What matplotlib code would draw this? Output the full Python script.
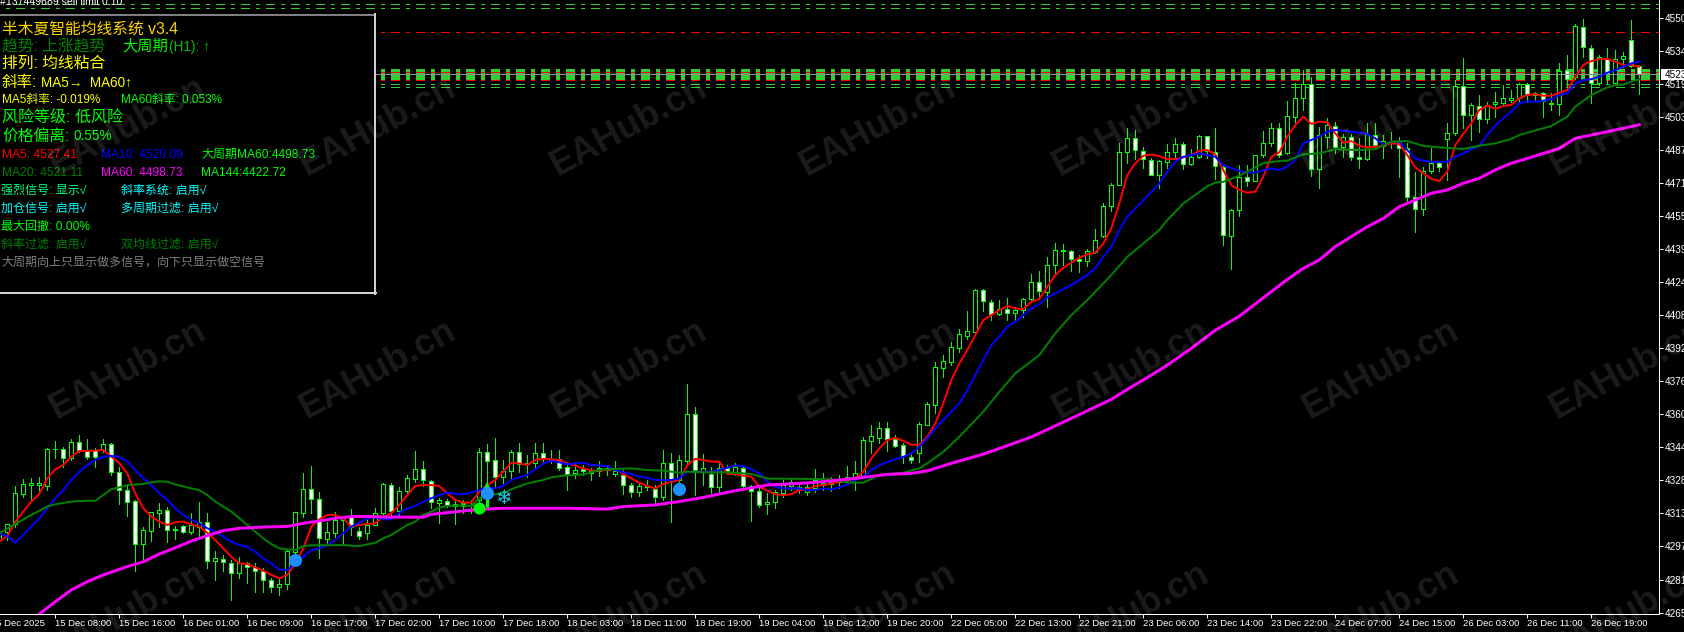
import numpy as np
import matplotlib
matplotlib.use('Agg')
import matplotlib.pyplot as plt
from matplotlib.patches import Rectangle
from matplotlib.lines import Line2D

# bars run from -1 to 204
first_bar = -1
body_top = [4304,
 4307.7,4322.3,4326.6,4327.1,4327.1,4343.4,4343.7,4343.4,4346.7,4346.7,
 4342.8,4343.1,4345.8,4345.8,4332.4,4323.9,4318.7,4304.8,4313.2,4314.2,
 4314.2,4305.1,4306.5,4307.2,4308.8,4308.8,4291.2,4291.1,4289.2,4289.2,
 4289.2,4287.3,4285.2,4280.7,4278.8,4294.6,4313.2,4324.3,4324.3,4319.8,
 4303.7,4309.6,4310.9,4310.9,4304.5,4307.2,4313.1,4326.6,4326.5,4323.6,
 4329.5,4333.8,4333.8,4328.4,4319,4318.8,4317.2,4317.6,4316.9,4342,
 4342.3,4338.1,4333.2,4342.3,4342.3,4337,4341.5,4341.5,4338.8,4338.6,
 4334.8,4333.3,4333.8,4333.2,4334.3,4334.3,4333,4331.3,4326.5,4325.7,
 4325.8,4324.6,4336.7,4336.7,4338.1,4360.1,4360.1,4334.3,4331.6,4334.6,
 4334.3,4335.1,4334.3,4325.9,4323.3,4318,4322.8,4326.3,4327.9,4325.2,
 4325.2,4328.7,4327.5,4328,4329,4330,4332.3,4347.7,4349.6,4353.4,
 4353.4,4348.5,4345.4,4339.5,4355.3,4364.9,4382.6,4385.5,4392.2,4398.4,
 4399.8,4419.4,4419.4,4414,4410.5,4410.7,4410.3,4415.4,4423.3,4423.3,
 4431.4,4438.6,4438.6,4438.4,4434.7,4438.1,4443.4,4459.6,4470.1,4485.9,
 4492.6,4492.6,4486.3,4482,4481.2,4485.9,4489.3,4489.3,4483.1,4493.1,
 4493.1,4485.8,4478.6,4457.7,4473.6,4473.6,4484.1,4490.1,4497,4497,
 4502.7,4511.4,4518.2,4518.2,4493.8,4498.6,4498.3,4493,4493,4483.4,
 4494.3,4494,4490.9,4490.6,4490.6,4487.6,4464.3,4476.6,4480.3,4480.3,
 4494.6,4517.4,4517.4,4508.2,4507.9,4508.2,4509.4,4511.4,4511.4,4518.2,
 4518,4513.8,4513.8,4509,4524.6,4524.9,4546,4545.6,4535.6,4531,
 4530.3,4530.3,4531.6,4539.3,4526.8]
body_bottom = [4300,
 4304,4307.7,4322.2,4326.2,4326.2,4326,4343.4,4339.1,4339.1,4342.8,
 4339.6,4339.6,4343.1,4332.4,4323.9,4318.4,4297.9,4297.9,4304.5,4313.1,
 4304.6,4304.8,4304,4303.7,4306.4,4289.8,4289.8,4289.3,4284.1,4284.1,
 4287.3,4285,4280.7,4277.4,4277.4,4278.8,4294.3,4313.1,4319.8,4300.8,
 4300.6,4303.5,4309.6,4306.4,4302.1,4303.5,4307.2,4312.8,4314,4314,
 4323.6,4329.4,4328.6,4318.4,4317.9,4316.9,4316.3,4316.3,4316.6,4319.2,
 4338,4330.3,4330.3,4333.2,4336.4,4336.4,4337,4338.8,4338.3,4334.6,
 4331.3,4331.9,4333.2,4332.2,4333.2,4333.5,4331.6,4326.5,4323.1,4323.1,
 4325.5,4320.7,4320.4,4329,4328.7,4338,4333.5,4332.7,4325.2,4325.2,
 4333.2,4332.7,4326,4323.3,4316.9,4317.1,4318,4322.5,4326,4323.9,
 4323,4324.7,4326.5,4327,4328,4328.5,4329.5,4330.3,4347.5,4348.9,
 4348.5,4345.1,4340.3,4338.4,4341.4,4355.2,4364.7,4382.4,4385.3,4392,
 4397.7,4399.7,4414.2,4408.1,4408,4408.4,4408.4,4410,4415.4,4419,
 4418.8,4431.4,4438.1,4434.7,4433.3,4433.3,4437.9,4445.3,4459.6,4470.1,
 4485.8,4486.4,4482.1,4474.9,4474.8,4481,4485.8,4479.9,4479.7,4483.1,
 4486.1,4478.8,4446.1,4445.7,4457.9,4472,4472,4484.1,4490.1,4484.1,
 4485.4,4502.6,4511.4,4477.4,4477.4,4492.7,4487.9,4487.9,4483.1,4482.2,
 4482.2,4489,4488.6,4489.8,4487.6,4464.3,4458.2,4458.2,4476.6,4478.7,
 4491.7,4494.6,4503.2,4503.2,4501.3,4501.3,4508.5,4509.3,4510.4,4511.4,
 4512.9,4513,4510.2,4508.5,4508.5,4520.6,4521.7,4535.8,4518.5,4518.5,
 4523,4518.5,4530.3,4526.8,4523]
highs = [4306,
 4307.7,4325.9,4329,4329.5,4330,4343.9,4347.2,4344.4,4348.2,4350.3,
 4348.2,4343.9,4348.2,4346.3,4335.1,4326.3,4319.2,4306.4,4313.6,4317.6,
 4316,4306.7,4307.2,4313.1,4318.2,4312.8,4294.7,4292.8,4290.4,4292,
 4289.6,4288.8,4286.5,4281.7,4281.7,4295.2,4313.6,4331.9,4335.4,4323.1,
 4308.8,4313.6,4311.5,4314.7,4306.4,4309.6,4315.2,4327.1,4327.4,4325.2,
 4331.1,4342.6,4337.8,4328.7,4320,4319.8,4319.2,4319.2,4319.2,4343.9,
 4345.9,4348.7,4338.3,4343.1,4346.6,4340.7,4346.3,4346.3,4343.1,4343.1,
 4335.9,4336.7,4335.9,4334.3,4337.8,4335.9,4337.8,4333.5,4327.4,4327.1,
 4328.7,4326.3,4343.1,4341.5,4340.7,4374.7,4363.5,4341.2,4335.1,4336.7,
 4335.9,4336.7,4335.6,4326.3,4325.2,4322.3,4323.9,4328.7,4329.5,4327.1,
 4327.1,4334,4331.9,4330,4331,4335.4,4337.8,4349.4,4355,4356.3,
 4356.3,4350.2,4346.2,4341.4,4356.6,4366.2,4385.3,4388.5,4394.9,4400.8,
 4409.5,4419.9,4419.9,4414.8,4414.8,4415.6,4411.6,4415.6,4427.2,4428.7,
 4435.2,4441.9,4441.6,4438.7,4436.3,4439.2,4448.6,4461.1,4470.6,4490.2,
 4497.1,4496.1,4487.9,4482.6,4481.8,4489.3,4492.6,4490.6,4486.9,4493.8,
 4493.3,4497.1,4479.2,4458.5,4479.5,4479.3,4484.2,4495.9,4499.4,4499.4,
 4510.1,4518.5,4524.9,4521.7,4497.5,4501.8,4500.2,4494.3,4494.3,4492.2,
 4499.4,4499.4,4493.8,4495.4,4492.7,4489.8,4475.9,4478.7,4487.4,4481,
 4499.4,4520.1,4530.5,4509,4512.9,4509.8,4514.2,4517.7,4515.3,4518.9,
 4518.5,4514.5,4514.5,4513.8,4528.4,4532.1,4546.9,4549.3,4536.9,4532.1,
 4535.3,4534.5,4533.7,4548.8,4527.3]
lows = [4298,
 4300,4306.4,4320.7,4319.2,4322,4323.9,4339.1,4335.1,4338.3,4342.3,
 4338.6,4335.1,4342.3,4331.1,4317.2,4311.7,4285.3,4290.8,4299.7,4306.4,
 4299.2,4300.3,4303.2,4302.9,4301.6,4286.5,4280.9,4285.3,4271.3,4281.7,
 4279.3,4275.3,4275.3,4275.3,4273.7,4276.4,4292.8,4311.2,4312.8,4291.6,
 4297.6,4301.6,4297.6,4302.4,4300.3,4300.3,4308,4312,4312,4312,
 4322.3,4327.9,4325.9,4315.2,4308.3,4316,4307.7,4312.8,4312.8,4317.6,
 4316,4325.2,4327.1,4329.5,4332.7,4330.3,4335.1,4336.7,4336.7,4333.5,
 4323.9,4329.5,4331.1,4328.7,4330.6,4331.1,4330.6,4322,4320.7,4321.1,
 4323.9,4317.2,4319.2,4308.8,4327.1,4336.7,4321.5,4326.3,4322.3,4323.1,
 4331.6,4331.1,4324.7,4309.3,4315.6,4312.5,4315.2,4320.7,4323.9,4322.3,
 4321.5,4323.1,4323.9,4323.5,4325,4327.1,4323.9,4330,4341.4,4346.2,
 4342.7,4344.6,4336.7,4336.7,4337.4,4355,4360.6,4378.1,4383.7,4390.1,
 4396,4398.9,4409.7,4405.2,4407.6,4405.2,4405.2,4406.8,4414.8,4415.6,
 4411.6,4427.2,4431.5,4428.8,4428.4,4431.2,4437.1,4445.1,4457.5,4469.8,
 4480.5,4482.1,4478.1,4474.5,4468.5,4477.8,4483.4,4477.5,4479.4,4482.6,
 4482.6,4472.7,4441.1,4429.8,4455.1,4469.4,4471.6,4483.4,4488.5,4483.4,
 4484.7,4499.7,4505.8,4474.2,4468.6,4487.4,4485,4483.4,4481.8,4477.9,
 4481.8,4487.4,4482.6,4487.4,4473.9,4461.4,4447.6,4455.5,4475.5,4476.7,
 4472.3,4493.8,4497,4491.4,4495.4,4499.4,4502.6,4508.2,4509.8,4509.8,
 4509.8,4510.6,4502.3,4505.8,4503.4,4515.3,4520.4,4531,4509.3,4517.7,
 4518.5,4517.7,4526.5,4526.5,4513.4]
falling_bars = [7,9,10,11,13,14,15,16,20,22,25,27,28,30,31,32,33,38,39,43,44,48,52,53,55,57,
    60,61,64,67,69,70,72,73,77,78,81,83,86,88,90,92,93,94,99,110,111,112,113,122,123,125,129,
    133,134,141,142,143,147,150,151,152,155,159,163,166,168,169,171,174,175,176,179,182,184,
    190,192,195,197,198,200,203,204]

ma5 = [4299.2,4301.9,4308.8,4313.6,4318.4,4322,4329.5,4333.8,4335.9,4339.9,4342.6,
 4342.6,4342.8,4343.1,4339.9,4336.7,4331.9,4322.3,4315.2,4311.2,4308.8,
 4307.2,4308.5,4308.8,4307.5,4306.4,4303.5,4300,4296,4292,4288.8,
 4288.5,4286.9,4285.3,4283.3,4281.7,4283.3,4288.8,4296,4306.4,4309.9,
 4312,4312,4310.4,4306.4,4307.2,4307.7,4308,4311.2,4312.8,4316.8,
 4321.5,4325.9,4326.3,4326.3,4325.9,4322.3,4319.2,4317.9,4317.9,4323.1,
 4326.3,4328.7,4332.7,4337,4336.7,4335.9,4338.3,4338.8,4338.6,4338.3,
 4336.7,4335.6,4334.3,4333.2,4333.2,4333.5,4333.8,4331.6,4329.5,4327.4,
 4325.9,4324.7,4326.8,4327.9,4328.7,4335.9,4338.8,4338.3,4337.5,4337.5,
 4331.6,4331.6,4330.8,4330.3,4325.5,4323.6,4321.9,4321.5,4321.9,4323.9,
 4324.3,4325.9,4326.3,4327,4327.9,4328.7,4329.5,4332.7,4339,4343.8,
 4347.8,4348.9,4347.5,4345.6,4345.6,4349.4,4355.8,4365.4,4376.5,4384.5,
 4390.9,4398,4405.2,4407.6,4410,4412,4410.8,4410.5,4414,4415.3,
 4421.2,4426.8,4430.3,4432.7,4435.1,4436.7,4437.5,4441.9,4449.1,4461,
 4474.6,4480.2,4483.9,4484.5,4483.7,4482.3,4482.3,4483.1,4484.2,4486.3,
 4486.6,4484.5,4477,4469.9,4467.5,4466.2,4466.7,4473.9,4483.4,4485.5,
 4493,4498.6,4502.6,4499.1,4500.2,4499.9,4494.6,4490.1,4490.9,4488.6,
 4487.9,4488.2,4488.6,4489.8,4489.5,4484.2,4478.3,4475.5,4472.8,4471.8,
 4476.3,4489,4494.3,4499.4,4505.8,4507.9,4506.3,4507.7,4508.2,4511.4,
 4513,4513.3,4512.6,4512.6,4514,4515.3,4521.7,4527.3,4529.2,4530.2,
 4530.2,4528.9,4527.3,4527.3,4526.5]
ma10 = [4303.2,4301.9,4298.7,4302.4,4306.4,4310.4,4315.2,4320,4323.9,4328.7,4332.7,
 4335.9,4338.3,4339.9,4340.2,4339.9,4337.5,4333.5,4329.5,4326.3,4322.3,
 4319.2,4315.2,4312,4309.6,4308,4305.6,4304,4301.6,4299.2,4297.6,
 4296.8,4294.4,4291.2,4288.8,4285.7,4285.7,4288.8,4292,4295.2,4296,
 4297.6,4300,4303.2,4306.4,4308.3,4310.4,4310.9,4309.9,4309.9,4312.8,
 4315.2,4316.3,4318.4,4320,4321.5,4322.7,4322,4321.9,4322.7,4323.9,
 4325.1,4324.7,4325.9,4328.7,4330,4331.1,4333.8,4336.7,4337.8,4337.2,
 4336.2,4336.7,4337,4335.9,4335.6,4335.4,4333.5,4332.4,4331.6,4330.3,
 4329.8,4328.7,4328.7,4328.7,4329.5,4332.7,4332.7,4332.7,4332.7,4333.5,
 4334.6,4335.6,4335.4,4333.8,4331.9,4327.9,4325.5,4324.7,4324.7,4324.7,
 4323.9,4323.9,4324.7,4324.2,4325.2,4326.6,4328.7,4330.3,4333.5,4335.8,
 4337.4,4338.7,4339.8,4341.4,4344.6,4348.6,4353.4,4357.4,4361.4,4365.4,
 4371.7,4378.9,4386.1,4393.3,4397.3,4402,4404.4,4407.6,4410.8,4412.9,
 4416.1,4418,4420.1,4422,4424.4,4426.8,4430,4435.5,4440.3,4448.3,
 4454.7,4458.7,4462.6,4466.6,4470.6,4476.2,4481,4483.4,4484.2,4485,
 4484.2,4483.4,4479.4,4477.9,4476.7,4475.8,4475.8,4477,4477.9,4477,
 4478.7,4481.9,4489.8,4491.4,4493,4495.4,4496.2,4495.9,4495.4,4494.9,
 4494.3,4492.2,4489,4490.6,4490.6,4486.6,4482.6,4481.5,4481,4481,
 4481,4483.4,4485,4487,4488.6,4493.8,4498.3,4501.8,4505,4509,
 4509.8,4509.8,4510.2,4510.9,4513,4513.8,4518.5,4520.1,4520.5,4521.7,
 4523.6,4524.9,4526.5,4528.1,4528.9]

ma20_bars = [-1,1,3,5,6,8,10,11,12,13,14,15,17,18,19,20,21,23,24,25,26,27,28,29,30,31,32,33,34,35,36,
 37,38,40,42,43,44,46,47,48,50,51,52,53,54,55,57,58,59,60,62,63,65,67,68,70,72,74,76,78,80,82,84,85,
 87,90,92,93,95,101,103,105,107,109,112,114,115,117,119,120,122,124,126,129,131,133,135,138,140,144,
 145,147,150,151,152,154,157,159,160,162,164,166,169,171,173,175,177,179,182,184,186,188,189,193,195,
 196,198,200,201,202,203,204]
ma20 = [4303.2,4307.7,4312,4316,4317.1,4318.4,4318.8,4318.8,4321.5,4324.3,4325.2,4326.3,4326.8,4327.6,
 4328.1,4327.9,4326.6,4324.7,4323.9,4321.5,4318.4,4316,4313.6,4310.4,4307.2,4304,4300.8,4298.1,4296,
 4295.5,4295.2,4297.1,4297.5,4297.5,4297.6,4297.3,4297.1,4298.7,4300.8,4302.4,4307.2,4308.8,4312,
 4313.6,4315.5,4316.3,4316.6,4316.3,4320,4321.5,4322.3,4324.3,4327.1,4328.7,4330,4331,4331.3,4333.5,
 4334,4334.3,4333.5,4333.2,4332.2,4332.7,4332.4,4332.4,4331.9,4331.6,4329.4,4329.2,4329.1,4327.6,
 4327.4,4331.1,4332.2,4334.3,4336.7,4342.2,4349.4,4353.4,4361.4,4370.9,4379.7,4388.5,4398.9,4407.6,
 4414.8,4426.8,4435.5,4448.3,4453.1,4461,4469.3,4471,4471.4,4474.3,4480.3,4481.4,4481.5,4484.6,4485,
 4487,4486.6,4487,4490.6,4490.9,4488.6,4487.9,4487.1,4488.7,4489.8,4491.9,4493.8,4498.1,4502.6,
 4507.4,4512.9,4516.6,4517.7,4517.9,4519.3,4520.5]

ma60_bars = [4,6,8,10,12,15,17,19,21,23,25,27,29,32,35,37,39,41,43,45,47,52,53,59,62,70,75,77,81,84,87,
 91,95,99,101,106,110,113,115,118,122,124,128,134,138,140,143,145,148,151,154,160,162,164,166,168,170,
 172,174,176,178,180,182,184,186,188,190,192,194,196,198,200,202,204]
ma60 = [4264.6,4270.5,4276.1,4280.1,4283.3,4287.3,4289.6,4293.3,4296.3,4299.5,4302.1,4304.5,4305.6,4306.2,
 4306.5,4308,4309.1,4310.4,4311.2,4311.3,4311,4310.9,4312.3,4314.7,4315.2,4315.2,4314.8,4316,4316.8,
 4318.4,4320.4,4323.6,4326.3,4327.1,4327.6,4329.5,4331.4,4331.9,4333.1,4336.7,4341.1,4343.8,4349.3,
 4360,4367.3,4372.1,4378.9,4383.7,4391.7,4400.4,4407.1,4424.7,4430,4434,4440.4,4445.2,4449.9,4453.9,
 4459.5,4462.7,4465.9,4467.5,4470.7,4473.1,4477.1,4480.3,4482.6,4485,4487.4,4492.2,4493.8,4495.4,4497,4498.7]

# order levels
top_levels = [4556.3, 4554.4]
stop_level = 4542.9
band_green = [4525.4,4524.9,4524.4,4523.9,4523.4,4523,4522.5,4522,4521.5,4521.1,4520.6,4518.4,4517]
band_red = [4523.9,4519.9]
bid_price = 4523

# signal markers
blue_dot_bars = [36,60,84]
blue_dot_prices = [4290.4,4322.7,4324.4]
green_dot_bar = 59
green_dot_price = 4315.2
arrow_bar = 60
arrow_low, arrow_high = 4316, 4325
snow_bar = 62
snow_price = 4320

xtick_bars = [6,14,22,30,38,46,54,62,70,78,86,94,102,110,118,126,134,142,150,158,166,174,182,190,198]
xtick_labels = ['15 Dec 08:00','15 Dec 16:00','16 Dec 01:00','16 Dec 09:00','16 Dec 17:00',
    '17 Dec 02:00','17 Dec 10:00','17 Dec 18:00','18 Dec 03:00','18 Dec 11:00','18 Dec 19:00','19 Dec 04:00',
    '19 Dec 12:00','19 Dec 20:00','22 Dec 05:00','22 Dec 13:00','22 Dec 21:00','23 Dec 06:00','23 Dec 14:00',
    '23 Dec 22:00','24 Dec 07:00','24 Dec 15:00','26 Dec 03:00','26 Dec 11:00','26 Dec 19:00']
first_date_label = '15 Dec 2025'
ytick_prices = [4550,4534.2,4518.4,4502.5,4486.7,4470.9,4455.1,4439.3,4423.4,4407.6,4391.8,4376,4360.2,
    4344.3,4328.5,4312.7,4296.9,4281.1,4265.2]
ytick_labels = ['4550','4534','4519','4503','4487','4471','4455','4439','4424','4408','4392','4376','4360',
    '4344','4328','4313','4297','4281','4265']

W, H = 1684, 632
PX = 0.72   # one pixel in points at dpi 100
LIME = '#00ff00'
FONT = ['Liberation Sans', 'Noto Sans CJK SC', 'DejaVu Sans']
plt.rcParams['lines.scale_dashes'] = False

def fx(x):
    return x / W

def fy(y):
    return 1 - y / H

def label(x, y, text, color, size):
    # size is in pixels, y is the vertical centre of the line
    fig.text(fx(x), fy(y + 1.5), text, color=color, fontsize=size * PX, family=FONT, va='center', ha='left', zorder=6)

fig = plt.figure(figsize=(W / 100, H / 100), dpi=100, facecolor='black')
ax = fig.add_axes([0, 1 - 614 / H, 1659 / W, 614 / H], facecolor='black')

dash = (9 * PX, (9 * PX, 6 * PX, 3 * PX, 6 * PX))
for level in top_levels:
    ax.axhline(level, color='#32cd32', lw=PX, ls=dash, antialiased=False, zorder=1)
ax.axhline(stop_level, color='red', lw=PX, ls=dash, antialiased=False, zorder=1)
for level in band_green:
    ax.axhline(level, color='#32cd32', lw=1.4 * PX, ls=dash, antialiased=False, zorder=1)
for level in band_red:
    ax.axhline(level, color='red', lw=PX, ls=dash, antialiased=False, zorder=1.1)

# candles
bars = np.arange(first_bar, first_bar + len(body_top))
top = np.array(body_top)
bottom = np.array(body_bottom)
fills = ['white' if b in falling_bars else 'black' for b in bars]
ax.vlines(bars, lows, highs, color=LIME, lw=PX, antialiased=False, zorder=2)
ax.bar(bars, top - bottom, bottom=bottom, width=0.5, color=fills, edgecolor=LIME, linewidth=PX,
       antialiased=False, zorder=3)

ax.axhline(bid_price, color='#8c8c9c', lw=PX, antialiased=False, zorder=3.5)

# moving averages
ax.plot(bars, ma5, color='red', lw=2 * PX, zorder=4)
ax.plot(bars, ma10, color='blue', lw=2 * PX, zorder=4.1)
ax.plot(ma20_bars, ma20, color='#008000', lw=2 * PX, zorder=4.2)
ax.plot(ma60_bars, ma60, color='magenta', lw=3 * PX, zorder=4.3)

# signals
ax.vlines(arrow_bar, arrow_low, arrow_high, color=LIME, lw=3 * PX, zorder=5)
ax.plot([arrow_bar], [arrow_high], marker='^', ms=12 * PX, color=LIME, mew=0, zorder=5)
ax.plot([green_dot_bar], [green_dot_price], 'o', ms=12 * PX, color=LIME, mew=0, zorder=5.1)
ax.plot(blue_dot_bars, blue_dot_prices, 'o', ms=13 * PX, color='#1e90ff', mew=0, ls='none', zorder=5.2)
ax.text(snow_bar, snow_price, '\u2744', color='#22c8e8', fontsize=20 * PX, family='DejaVu Sans',
        ha='center', va='center', zorder=5.3)

# axes
for side in ['top', 'left']:
    ax.spines[side].set_visible(False)
ax.spines['right'].set_color('white')
ax.spines['bottom'].set_color('white')
ax.spines['right'].set_linewidth(PX)
ax.spines['bottom'].set_linewidth(PX)
ax.yaxis.tick_right()
ax.set_yticks(ytick_prices)
ax.set_yticklabels(ytick_labels, family='Liberation Sans', fontsize=10 * PX, color='white')
ax.set_xticks(xtick_bars)
ax.set_xticklabels(xtick_labels, family='Liberation Sans', fontsize=9.5 * PX, color='white', ha='left')
ax.tick_params(axis='y', colors='white', length=4 * PX, width=PX, pad=1)
ax.tick_params(axis='x', colors='white', length=4 * PX, width=PX, pad=1)
# ticks above widen the view, so the limits come last
ax.set_xlim(-0.9125, 206.4625)
ax.set_ylim(4264.6, 4558.4)
fig.text(fx(-9), fy(623), first_date_label, color='white', fontsize=9.5 * PX, family='Liberation Sans', va='center')

# last price box
fig.add_artist(Rectangle((fx(1661), fy(79.5)), 23 / W, 10.5 / H, transform=fig.transFigure, fc='white', ec='none', zorder=5))
fig.text(fx(1665), fy(74.5), '4523', color='black', fontsize=10 * PX, family='Liberation Sans', va='center', zorder=6)

# info panel
fig.add_artist(Rectangle((-0.01, fy(293)), fx(375) + 0.01, 278 / H, transform=fig.transFigure, fc='black', ec='none', zorder=5))
fig.add_artist(Line2D([0, fx(375)], [fy(15), fy(15)], color='#808080', lw=2 * PX, transform=fig.transFigure, zorder=5.1))
fig.add_artist(Line2D([fx(375), fx(375)], [fy(14), fy(294)], color='#d0d0d0', lw=2 * PX, transform=fig.transFigure, zorder=5.1))
fig.add_artist(Line2D([0, fx(376)], [fy(293), fy(293)], color='#d0d0d0', lw=2 * PX, transform=fig.transFigure, zorder=5.1))

label(2, 28, '半木夏智能均线系统 v3.4', '#ffd700', 15.7)
label(2, 45, '趋势: 上涨趋势', '#008000', 15.8)
label(122, 45, '大周期', LIME, 15.3)
label(169, 45, '(H1): ↑', '#00c000', 13.5)
label(2, 62, '排列: 均线粘合', 'yellow', 15.8)
label(2, 81, '斜率:', 'yellow', 15.5)
label(41, 81, 'MA5→  MA60↑', 'yellow', 13.5)
label(2, 98, 'MA5斜率: -0.019%', 'yellow', 11.7)
label(121, 98, 'MA60斜率: 0.053%', LIME, 11.7)
label(2, 116, '风险等级: 低风险', LIME, 16)
label(2, 135, '价格偏离:', LIME, 15.8)
label(73, 135, '0.55%', LIME, 13.5)
label(2, 153, 'MA5: 4527.41', 'red', 12)
label(101, 153, 'MA10: 4529.09', 'blue', 12)
label(201, 153, '大周期MA60:4498.73', LIME, 12)
label(2, 171, 'MA20: 4521.11', '#008000', 12)
label(101, 171, 'MA60: 4498.73', 'magenta', 12)
label(201, 171, 'MA144:4422.72', LIME, 12)
label(1, 189, '强烈信号: 显示√', '#00ff7f', 12)
label(121, 189, '斜率系统: 启用√', 'cyan', 12)
label(1, 207, '加仓信号: 启用√', 'cyan', 12)
label(121, 207, '多周期过滤: 启用√', 'cyan', 12)
label(1, 225, '最大回撤: 0.00%', LIME, 12)
label(1, 243, '斜率过滤: 启用√', '#008000', 12)
label(121, 243, '双均线过滤: 启用√', '#008000', 12)
label(1, 261, '大周期向上只显示做多信号，向下只显示做空信号', '#808080', 12)

# status line, cut by the top of the window
fig.text(fx(0), fy(2), '#137449689 sell limit 0.10', color='white', fontsize=10.5 * PX, family='Liberation Sans',
         va='center', zorder=6)

# watermark
for wy in [176, 419, 662]:
    for wx in [57, 307, 558, 807, 1060, 1310, 1557]:
        fig.text(fx(wx), fy(wy), 'EAHub.cn', color='white', alpha=0.11, fontsize=26, fontweight='bold',
                 family='Liberation Sans', rotation=28.5, rotation_mode='anchor', ha='left', va='baseline', zorder=10)

fig.savefig('out.png', dpi=100, facecolor='black')
